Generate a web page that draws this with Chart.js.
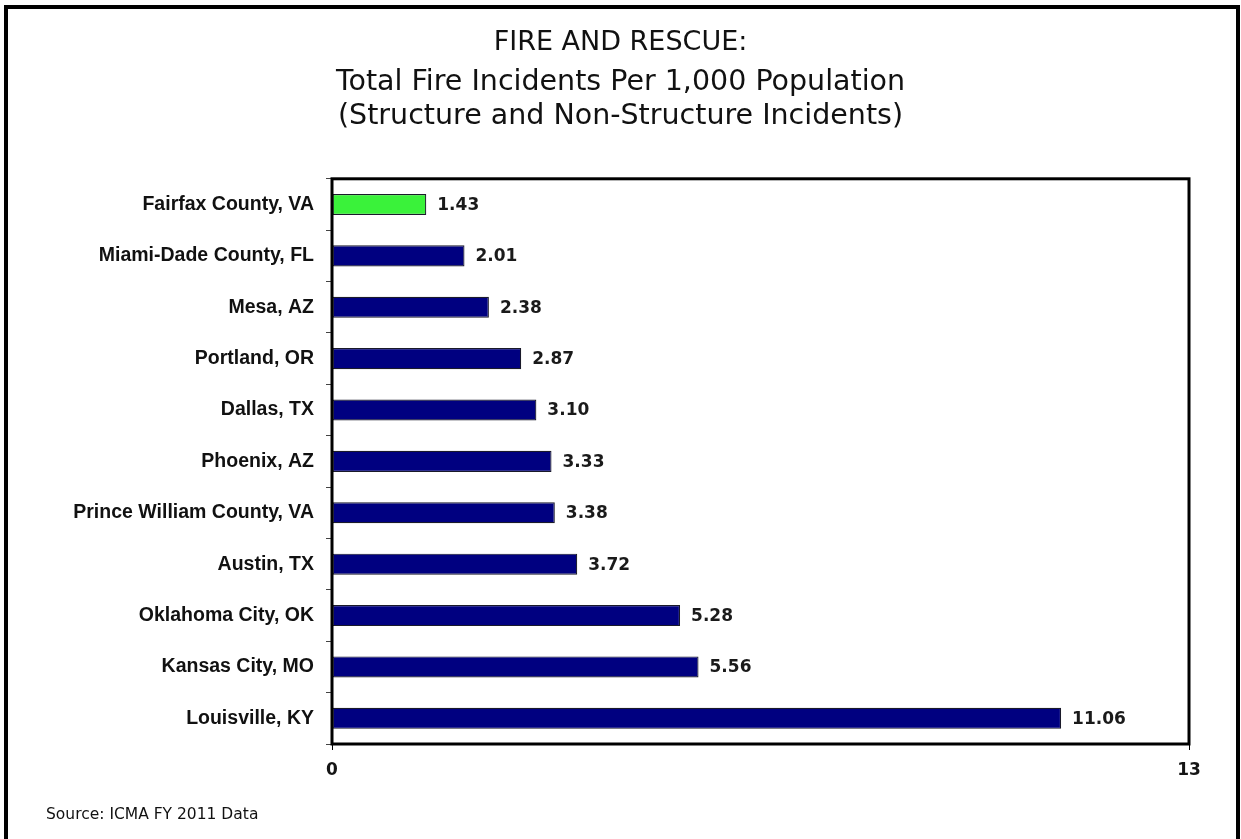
<!DOCTYPE html>
<html>
<head>
<meta charset="utf-8">
<script src="https://cdn.jsdelivr.net/npm/chart.js@4.4.1/dist/chart.umd.min.js"></script>
<style>
  html, body { margin: 0; padding: 0; background: #ffffff; overflow: hidden; }
  #wrap { position: relative; width: 1241px; height: 839px; }
  #frame { position: absolute; left: 4px; top: 5px; width: 1228px; height: 900px; border: 4px solid #000; box-sizing: content-box; }
  canvas { position: absolute; left: 0; top: 0; }
</style>
</head>
<body>
<div id="wrap">
  <div id="frame"></div>
  <canvas id="c" width="1241" height="839"></canvas>
</div>
<script>
const titleLine = 'FIRE AND RESCUE:';
const subtitleLines = ['Total Fire Incidents Per 1,000 Population', '(Structure and Non-Structure Incidents)'];
const sourceNote = 'Source: ICMA FY 2011 Data';

const categories = [
  'Fairfax County, VA',
  'Miami-Dade County, FL',
  'Mesa, AZ',
  'Portland, OR',
  'Dallas, TX',
  'Phoenix, AZ',
  'Prince William County, VA',
  'Austin, TX',
  'Oklahoma City, OK',
  'Kansas City, MO',
  'Louisville, KY'
];
const incidentsPer1000 = [1.43, 2.01, 2.38, 2.87, 3.10, 3.33, 3.38, 3.72, 5.28, 5.56, 11.06];
const xTickValues = [0, 13];

const highlightColor = '#3af23a';
const barColor = '#000080';
const barColors = categories.map((c, i) => i === 0 ? highlightColor : barColor);

const valueLabels = {
  id: 'valueLabels',
  afterDatasetsDraw(chart) {
    const ctx = chart.ctx;
    const meta = chart.getDatasetMeta(0);
    ctx.save();
    ctx.font = 'bold 17px "DejaVu Sans"';
    ctx.fillStyle = '#1a1a1a';
    ctx.textAlign = 'left';
    ctx.textBaseline = 'middle';
    meta.data.forEach((bar, i) => {
      ctx.fillText(incidentsPer1000[i].toFixed(2), bar.x + 11, bar.y + 1);
    });
    ctx.restore();
  }
};

const plotBox = {
  id: 'plotBox',
  afterDraw(chart) {
    const a = chart.chartArea;
    const ctx = chart.ctx;
    ctx.save();
    ctx.strokeStyle = '#000';
    ctx.lineWidth = 3;
    ctx.strokeRect(a.left, a.top, a.right - a.left, a.bottom - a.top);
    ctx.font = '15.5px "DejaVu Sans"';
    ctx.fillStyle = '#111';
    ctx.textAlign = 'left';
    ctx.textBaseline = 'middle';
    ctx.fillText(sourceNote, 46, 815);
    ctx.restore();
  }
};

new Chart(document.getElementById('c'), {
  type: 'bar',
  data: {
    labels: categories,
    datasets: [{
      data: incidentsPer1000,
      backgroundColor: barColors,
      borderColor: '#1a1a2a',
      borderWidth: 1.2,
      borderSkipped: false,
      barPercentage: 0.41,
      categoryPercentage: 1.0
    }]
  },
  options: {
    indexAxis: 'y',
    responsive: false,
    animation: false,
    layout: { padding: { top: 0, left: 52, right: 52, bottom: 0 } },
    plugins: {
      legend: { display: false },
      tooltip: { enabled: false },
      title: {
        display: true,
        text: titleLine,
        color: '#111',
        font: { family: '"DejaVu Sans"', size: 27, weight: 'normal', lineHeight: 1.2 },
        padding: { top: 27, bottom: 0 }
      },
      subtitle: {
        display: true,
        text: subtitleLines,
        color: '#111',
        font: { family: '"DejaVu Sans"', size: 28.5, weight: 'normal', lineHeight: 1.2 },
        padding: { top: 6, bottom: 45 }
      }
    },
    scales: {
      x: {
        type: 'linear',
        min: 0,
        max: 13,
        afterFit(scale) { scale.height = 95; },
        afterBuildTicks(scale) { scale.ticks = xTickValues.map(v => ({ value: v })); },
        grid: { drawOnChartArea: false, drawTicks: true, tickLength: 6, color: '#000', lineWidth: 1 },
        border: { display: false },
        ticks: {
          color: '#151515',
          padding: 10,
          font: { family: '"DejaVu Sans"', size: 17, weight: 'bold' },
          maxRotation: 0
        }
      },
      y: {
        afterFit(scale) { scale.width = 280; },
        grid: { drawOnChartArea: false, drawTicks: true, tickLength: 6, color: '#444', lineWidth: 1, offset: true },
        border: { display: false },
        ticks: {
          color: '#111',
          padding: 12,
          font: { family: '"Liberation Sans"', size: 19.5, weight: 'bold' }
        }
      }
    }
  },
  plugins: [valueLabels, plotBox]
});
</script>
</body>
</html>
